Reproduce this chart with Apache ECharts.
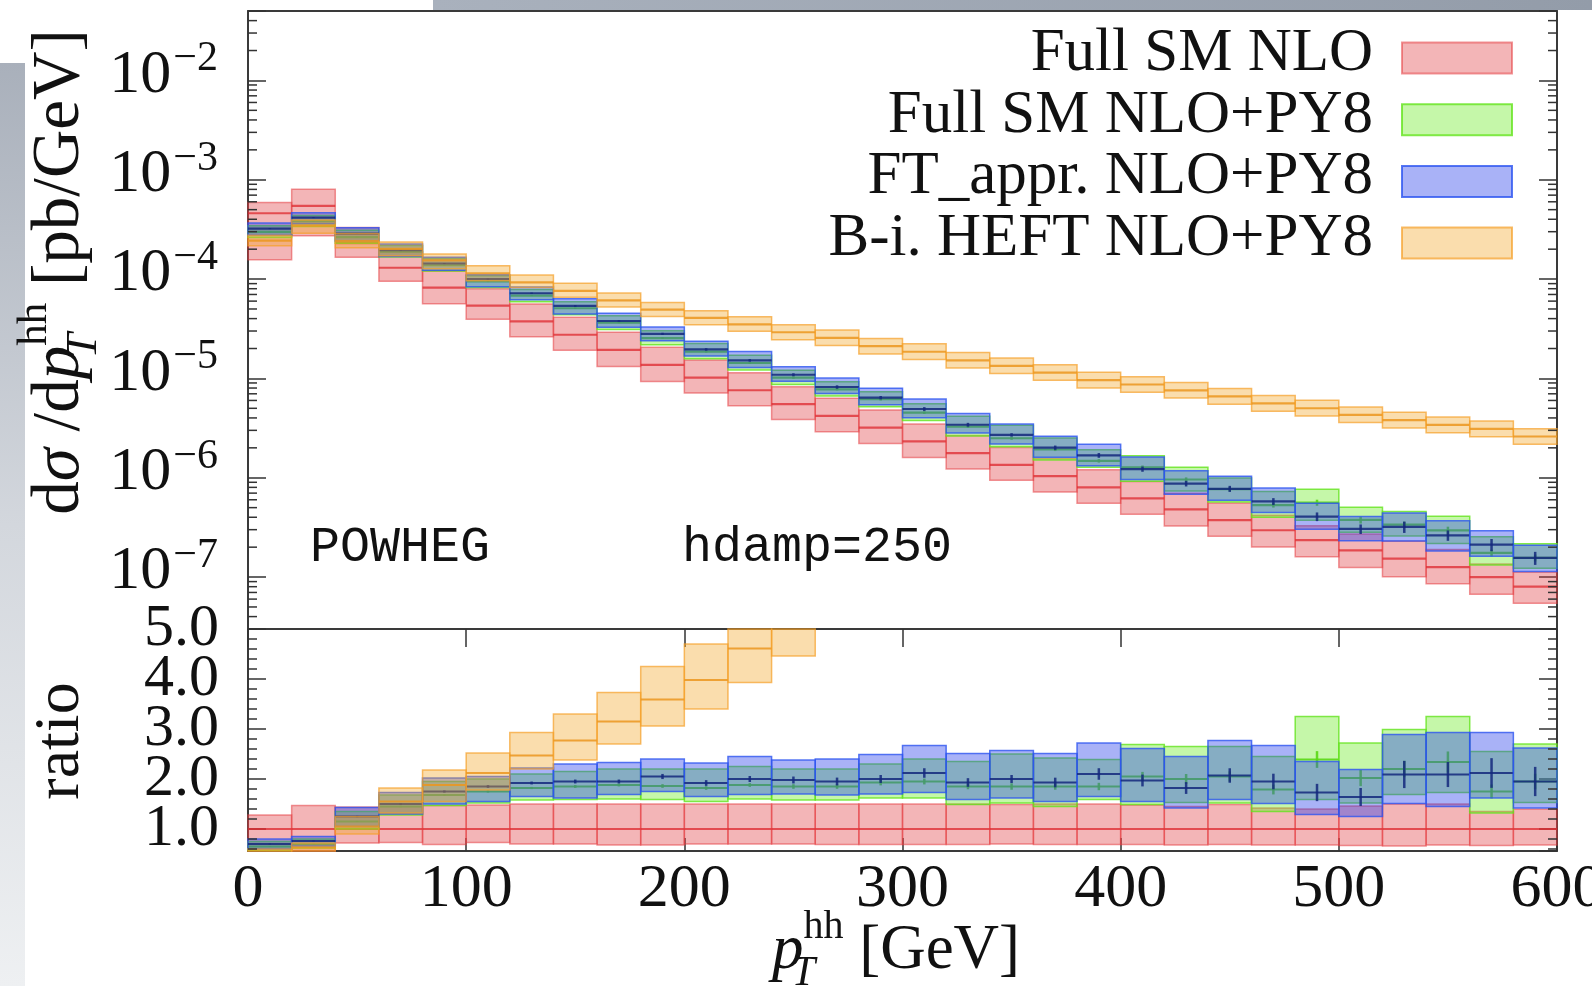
<!DOCTYPE html>
<html>
<head>
<meta charset="utf-8">
<title>pT hh</title>
<script src="https://cdn.jsdelivr.net/npm/echarts@6/dist/echarts.min.js"></script>
<style>
  html, body { margin: 0; padding: 0; background: #fff; }
  #chart { width: 1592px; height: 986px; }
</style>
</head>
<body>
<div id="chart"></div>
<script>
// bin edges in GeV
const binEdges = [0, 20, 40, 60, 80, 100, 120, 140, 160, 180, 200, 220, 240, 260, 280, 300,
                  320, 340, 360, 380, 400, 420, 440, 460, 480, 500, 520, 540, 560, 580, 600];

// Full SM NLO, central value in pb/GeV, band as factor of central
const fullNLO = [4.6e-4, 5.47e-4, 2.3e-4, 1.3e-4, 8.2e-5, 5.4e-5, 3.75e-5, 2.75e-5, 1.94e-5, 1.37e-5,
                 1.02e-5, 7.6e-6, 5.5e-6, 4.2e-6, 3.2e-6, 2.32e-6, 1.77e-6, 1.35e-6, 1.04e-6, 8.0e-7,
                 6.2e-7, 4.8e-7, 3.74e-7, 2.96e-7, 2.35e-7, 1.86e-7, 1.53e-7, 1.26e-7, 1.0e-7, 8.0e-8];
const fullNLOLo = [0.34, 0.50, 0.72, 0.73, 0.69, 0.73, 0.70, 0.70, 0.68, 0.68, 0.70, 0.70, 0.70, 0.69, 0.69,
                   0.69, 0.69, 0.70, 0.69, 0.69, 0.69, 0.68, 0.69, 0.68, 0.68, 0.67, 0.66, 0.68, 0.67, 0.68];
const fullNLOHi = [1.28, 1.47, 1.44, 1.45, 1.47, 1.48, 1.50, 1.50, 1.50, 1.50, 1.50, 1.50, 1.50, 1.50, 1.50,
                   1.50, 1.50, 1.49, 1.50, 1.50, 1.48, 1.45, 1.49, 1.42, 1.40, 1.46, 1.50, 1.50, 1.35, 1.40];

// the PY8 curves, as ratio to the Full SM NLO central value
const fullPY8 = [0.65, 0.70, 1.15, 1.45, 1.68, 1.75, 1.82, 1.85, 1.88, 1.86, 1.82, 1.88, 1.85, 1.85, 1.93,
                 1.95, 1.85, 1.85, 1.85, 1.85, 2.05, 2.00, 2.05, 1.79, 2.39, 2.02, 2.20, 2.34, 1.75, 1.95];
const fullPY8Lo = [0.57, 0.62, 1.00, 1.28, 1.47, 1.52, 1.58, 1.59, 1.60, 1.59, 1.55, 1.60, 1.58, 1.58, 1.62,
                   1.62, 1.49, 1.52, 1.45, 1.59, 1.49, 1.53, 1.52, 1.35, 1.59, 1.52, 1.69, 1.73, 1.32, 1.53];
const fullPY8Hi = [0.75, 0.80, 1.35, 1.68, 1.95, 2.00, 2.10, 2.15, 2.20, 2.20, 2.20, 2.25, 2.20, 2.20, 2.30,
                   2.40, 2.35, 2.50, 2.42, 2.39, 2.69, 2.65, 2.65, 2.45, 3.25, 2.72, 2.99, 3.25, 2.55, 2.70];
const fullPY8Stat = [0.01, 0.01, 0.01, 0.01, 0.01, 0.012, 0.012, 0.015, 0.015, 0.02, 0.02, 0.02, 0.025, 0.025, 0.03,
                     0.03, 0.03, 0.035, 0.035, 0.04, 0.045, 0.05, 0.05, 0.055, 0.07, 0.08, 0.075, 0.09, 0.08, 0.08];

const ftPY8 = [0.70, 0.76, 1.25, 1.50, 1.75, 1.85, 1.92, 1.95, 1.95, 2.05, 1.92, 2.00, 1.98, 1.95, 2.00,
               2.12, 1.93, 2.00, 1.93, 2.10, 1.97, 1.82, 2.07, 1.95, 1.73, 1.64, 2.09, 2.09, 2.12, 1.95];
const ftPY8Lo = [0.60, 0.66, 1.05, 1.30, 1.50, 1.55, 1.65, 1.62, 1.69, 1.75, 1.65, 1.69, 1.70, 1.68, 1.70,
                 1.73, 1.59, 1.62, 1.55, 1.65, 1.55, 1.42, 1.59, 1.51, 1.29, 1.25, 1.51, 1.45, 1.62, 1.42];
const ftPY8Hi = [0.80, 0.85, 1.43, 1.73, 2.02, 2.05, 2.22, 2.30, 2.33, 2.40, 2.32, 2.45, 2.38, 2.40, 2.49,
                 2.67, 2.51, 2.57, 2.51, 2.72, 2.61, 2.45, 2.77, 2.67, 2.35, 2.19, 2.89, 2.93, 2.93, 2.62];
const ftPY8Stat = [0.01, 0.01, 0.01, 0.01, 0.012, 0.015, 0.015, 0.02, 0.02, 0.025, 0.03, 0.03, 0.035, 0.04, 0.04,
                   0.045, 0.045, 0.04, 0.05, 0.055, 0.06, 0.065, 0.07, 0.08, 0.10, 0.11, 0.13, 0.12, 0.14, 0.15];

const heftPY8 = [0.53, 0.63, 1.05, 1.55, 1.88, 2.12, 2.47, 2.77, 3.15, 3.59, 3.98, 4.61, 5.30, 6.1, 6.6,
                 8.0, 8.6, 9.9, 11.0, 12.0, 14.0, 15.8, 17.6, 18.9, 21.3, 23.1, 24.8, 27.0, 31.0, 32.5];
const heftPY8Lo = [0.47, 0.53, 0.90, 1.32, 1.55, 1.78, 2.20, 2.38, 2.70, 3.06, 3.40, 3.93, 4.46, 5.1, 5.5,
                   6.7, 7.2, 8.3, 9.2, 10.0, 11.7, 13.2, 14.7, 15.8, 17.8, 19.3, 20.7, 22.5, 25.8, 27.1];
const heftPY8Hi = [0.60, 0.72, 1.25, 1.82, 2.18, 2.52, 2.93, 3.30, 3.73, 4.25, 4.70, 5.50, 6.30, 7.3, 7.9,
                   9.6, 10.3, 11.9, 13.2, 14.4, 16.8, 19.0, 21.1, 22.7, 25.6, 27.7, 29.8, 32.4, 37.2, 39.0];

const legendNames = ['Full SM NLO', 'Full SM NLO+PY8', 'FT_appr. NLO+PY8', 'B-i. HEFT NLO+PY8'];

const looks = [
    { fill: 'rgba(224,60,66,0.38)', edge: 'rgba(230,62,66,0.55)', mid: 'rgba(222,40,46,0.75)' },
    { fill: 'rgba(110,235,40,0.40)', edge: 'rgba(100,228,30,0.80)', mid: 'rgba(90,215,20,0.90)' },
    { fill: 'rgba(40,62,235,0.40)', edge: 'rgba(45,85,240,0.80)', mid: 'rgba(20,40,125,0.85)' },
    { fill: 'rgba(242,165,40,0.38)', edge: 'rgba(245,160,40,0.70)', mid: 'rgba(235,150,30,0.85)' }
];

const serif = 'Liberation Serif';
const frameColor = '#3a3a3a';
const tickColor = '#333';

// [mid, lo, hi, stat] in ratio units for each curve
const curves = [
    [fullNLO.map(() => 1), fullNLOLo, fullNLOHi, null],
    [fullPY8, fullPY8Lo, fullPY8Hi, fullPY8Stat],
    [ftPY8, ftPY8Lo, ftPY8Hi, ftPY8Stat],
    [heftPY8, heftPY8Lo, heftPY8Hi, null]
];

function bandData(k, absolute) {
    const c = curves[k];
    return fullNLO.map((ref, i) => {
        const s = absolute ? ref : 1;
        return [binEdges[i], binEdges[i + 1], c[1][i] * s, c[2][i] * s, c[0][i] * s, c[3] ? c[3][i] : 0];
    });
}

function renderBand(look) {
    return function (params, api) {
        const cs = params.coordSys;
        const box = { x: cs.x, y: cs.y, width: cs.width, height: cs.height };
        const x0 = api.value(0), x1 = api.value(1);
        const lo = api.value(2), hi = api.value(3), mid = api.value(4), st = api.value(5);
        const a = api.coord([x0, hi]);
        const b = api.coord([x1, lo]);
        const children = [];
        const r = echarts.graphic.clipRectByRect({ x: a[0], y: a[1], width: b[0] - a[0], height: b[1] - a[1] }, box);
        if (r) {
            children.push({ type: 'rect', shape: r, style: { fill: look.fill, stroke: look.edge, lineWidth: 1.5 } });
        }
        const ym = api.coord([x0, mid])[1];
        if (ym > cs.y && ym < cs.y + cs.height) {
            children.push({ type: 'line', shape: { x1: a[0], y1: ym, x2: b[0], y2: ym },
                            style: { stroke: look.mid, lineWidth: 2.2 } });
            if (st > 0) {
                const xc = (a[0] + b[0]) / 2;
                const yt = Math.max(cs.y, api.coord([x0, mid * (1 + st)])[1]);
                const yb = Math.min(cs.y + cs.height, api.coord([x0, mid * (1 - st)])[1]);
                children.push({ type: 'line', shape: { x1: xc, y1: yt, x2: xc, y2: yb },
                                style: { stroke: look.mid, lineWidth: 2.5 } });
            }
        }
        return { type: 'group', children: children };
    };
}

// small ticks on both sides of a panel
function renderMinor(len) {
    return function (params, api) {
        const cs = params.coordSys;
        const y = api.coord([0, api.value(1)])[1];
        return {
            type: 'group',
            children: [
                { type: 'line', shape: { x1: cs.x, y1: y, x2: cs.x + len, y2: y }, style: { stroke: tickColor, lineWidth: 1.5 } },
                { type: 'line', shape: { x1: cs.x + cs.width - len, y1: y, x2: cs.x + cs.width, y2: y }, style: { stroke: tickColor, lineWidth: 1.5 } }
            ]
        };
    };
}

const logMinor = [];
for (let e = -8; e <= -2; e++) {
    for (let m = 2; m <= 9; m++) {
        const v = m * Math.pow(10, e);
        if (v > 3e-8 && v < 5e-2) logMinor.push([0, v]);
    }
}
const ratioMinor = [];
for (let v = 0.6; v < 4.95; v += 0.2) {
    if (Math.abs(v - Math.round(v)) > 0.05) ratioMinor.push([0, +v.toFixed(1)]);
}

function mathRich(size) {
    const small = Math.round(size * 0.64);
    const lh = Math.round(size * 1.4);
    return {
        n: { fontFamily: serif, fontSize: size, lineHeight: lh, verticalAlign: 'middle', fill: '#111', color: '#111' },
        i: { fontFamily: serif, fontSize: size, fontStyle: 'italic', lineHeight: lh, verticalAlign: 'middle', fill: '#111', color: '#111' },
        sub: { fontFamily: serif, fontSize: small + 2, fontStyle: 'italic', lineHeight: small, verticalAlign: 'bottom', width: 0, fill: '#111', color: '#111' },
        sup: { fontFamily: serif, fontSize: small, lineHeight: small, verticalAlign: 'top', fill: '#111', color: '#111' }
    };
}

function frameAxis(extra) {
    return Object.assign({
        axisLine: { show: true, onZero: false, lineStyle: { color: frameColor, width: 2 } },
        axisTick: { show: false },
        axisLabel: { show: false },
        splitLine: { show: false }
    }, extra);
}

const majorTick = { show: true, inside: true, length: 18, lineStyle: { color: tickColor, width: 1.5 } };

// ratio axis labels, split over two left axes so that neighbours are not dropped
function ratioLabel(keepTop) {
    return {
        show: true, margin: 29, padding: [0, 0, 16, 0],
        showMinLabel: true, showMaxLabel: keepTop, hideOverlap: false,
        fontFamily: serif, fontSize: 60, color: '#111',
        formatter: function (v) {
            if (Math.abs(v - Math.round(v)) > 1e-9) return '';
            if ((Math.round(v) === 5) !== keepTop) return '';
            return v.toFixed(1);
        }
    };
}

const graphics = [
    { type: 'rect', z: -10, shape: { x: 433, y: 0, width: 1159, height: 10 },
      style: { fill: new echarts.graphic.LinearGradient(0, 0, 1, 0, [{ offset: 0, color: '#a9b1bd' }, { offset: 1, color: '#939ca9' }]) } },
    { type: 'rect', z: -10, shape: { x: 0, y: 63, width: 25, height: 923 },
      style: { fill: new echarts.graphic.LinearGradient(0, 0, 0, 1, [{ offset: 0, color: '#a9b0bb' }, { offset: 0.5, color: '#d3d7dd' }, { offset: 1, color: '#eef0f2' }]) } },
    { type: 'text', x: 60, y: 272, rotation: Math.PI / 2,
      style: { text: '{n|d}{i|σ}{n| /d}{i|p}{sub|T}{sup|hh}{n| [pb/GeV]}', rich: mathRich(67),
               align: 'center', verticalAlign: 'middle' } },
    { type: 'text', x: 61, y: 741, rotation: Math.PI / 2,
      style: { text: 'ratio', font: '64px "Liberation Serif"', fill: '#111', align: 'center', verticalAlign: 'middle' } },
    { type: 'text', x: 896, y: 951,
      style: { text: '{i|p}{sub|T}{sup|hh}{n| [GeV]}', rich: mathRich(63), align: 'center', verticalAlign: 'middle' } },
    { type: 'text', x: 310, y: 548,
      style: { text: 'POWHEG', font: '50px "Liberation Mono"', fill: '#111', align: 'left', verticalAlign: 'middle' } },
    { type: 'text', x: 682, y: 548,
      style: { text: 'hdamp=250', font: '50px "Liberation Mono"', fill: '#111', align: 'left', verticalAlign: 'middle' } }
];

legendNames.forEach((name, k) => {
    const yc = 58 + k * 61.7;
    graphics.push({ type: 'rect', shape: { x: 1402, y: yc - 15.5, width: 110, height: 31 },
                    style: { fill: looks[k].fill, stroke: looks[k].edge, lineWidth: 2 } });
    graphics.push({ type: 'text', x: 1373, y: yc - 4,
                    style: { text: name, font: '61px "Liberation Serif"', fill: '#111', align: 'right', verticalAlign: 'middle' } });
});

const series = [];
looks.forEach((look, k) => {
    series.push({ type: 'custom', name: legendNames[k], xAxisIndex: 0, yAxisIndex: 0, silent: true,
                  renderItem: renderBand(look), data: bandData(k, true), encode: { x: [0, 1], y: [2, 3] } });
});
looks.forEach((look, k) => {
    series.push({ type: 'custom', name: legendNames[k] + ' ratio', xAxisIndex: 2, yAxisIndex: 2, silent: true,
                  renderItem: renderBand(look), data: bandData(k, false), encode: { x: [0, 1], y: [2, 3] } });
});
series.push({ type: 'custom', xAxisIndex: 0, yAxisIndex: 0, silent: true, z: 5,
              renderItem: renderMinor(9), data: logMinor, encode: { x: 0, y: 1 } });
series.push({ type: 'custom', xAxisIndex: 2, yAxisIndex: 2, silent: true, z: 5,
              renderItem: renderMinor(9), data: ratioMinor, encode: { x: 0, y: 1 } });

const chart = echarts.init(document.getElementById('chart'), null, { renderer: 'canvas' });

const option = {
    animation: false,
    backgroundColor: '#ffffff',
    grid: [
        { left: 248, top: 11, width: 1309, height: 618, containLabel: false, outerBoundsMode: 'none' },
        { left: 248, top: 629, width: 1309, height: 222, containLabel: false, outerBoundsMode: 'none' }
    ],
    xAxis: [
        frameAxis({ gridIndex: 0, type: 'value', min: 0, max: 600, position: 'bottom' }),
        frameAxis({ gridIndex: 0, type: 'value', min: 0, max: 600, position: 'top' }),
        frameAxis({ gridIndex: 1, type: 'value', min: 0, max: 600, interval: 100, position: 'bottom',
                    axisTick: { show: true, inside: true, length: 13, lineStyle: { color: tickColor, width: 1.5 } },
                    axisLabel: { show: true, fontFamily: serif, fontSize: 62, color: '#111', margin: 8,
                                 showMinLabel: true, showMaxLabel: true, hideOverlap: false } }),
        frameAxis({ gridIndex: 1, type: 'value', min: 0, max: 600, interval: 100, position: 'top',
                    axisTick: majorTick })
    ],
    yAxis: [
        frameAxis({ gridIndex: 0, type: 'log', logBase: 10, min: 3e-8, max: 5e-2, position: 'left',
                    axisTick: majorTick,
                    axisLabel: {
                        show: true, margin: 30, padding: [0, 0, 22, 0],
                        formatter: function (v) {
                            const l = Math.log10(v), e = Math.round(l);
                            if (Math.abs(l - e) > 1e-6) return '';
                            return '{b|10}{s|\u2212' + (-e) + '}';
                        },
                        rich: {
                            b: { fontFamily: serif, fontSize: 62, color: '#111', lineHeight: 62, padding: [12, 0, 0, 0] },
                            s: { fontFamily: serif, fontSize: 42, color: '#111', lineHeight: 42, verticalAlign: 'top', padding: [0, 0, 0, 2] }
                        }
                    } }),
        frameAxis({ gridIndex: 0, type: 'log', logBase: 10, min: 3e-8, max: 5e-2, position: 'right',
                    axisTick: majorTick }),
        frameAxis({ gridIndex: 1, type: 'value', min: 0.56, max: 5, position: 'left',
                    axisTick: majorTick, axisLabel: ratioLabel(false) }),
        frameAxis({ gridIndex: 1, type: 'value', min: 0.56, max: 5, position: 'right',
                    axisTick: majorTick }),
        frameAxis({ gridIndex: 1, type: 'value', min: 0.56, max: 5, position: 'left',
                    axisLine: { show: false }, axisLabel: ratioLabel(true) })
    ],
    graphic: graphics,
    series: series
};

chart.setOption(option);
</script>
</body>
</html>
